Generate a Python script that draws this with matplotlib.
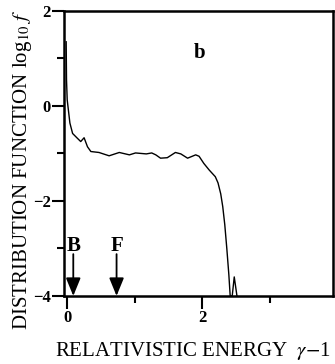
import numpy as np
import matplotlib.pyplot as plt

# distribution function
energy = [-0.015, -0.01, 0.0, 0.04, 0.08, 0.15, 0.20, 0.25, 0.30, 0.35, 0.47, 0.62, 0.77,
          0.92, 1.01, 1.17, 1.25, 1.31, 1.38, 1.48, 1.60, 1.68, 1.78, 1.90, 1.95, 2.02,
          2.10, 2.19, 2.23, 2.27, 2.30, 2.33, 2.36, 2.39, 2.41, 2.44, 2.47, 2.51]
log_f = [1.35, 0.55, 0.13, -0.36, -0.58, -0.68, -0.75, -0.67, -0.86, -0.96, -0.98, -1.05, -0.98,
         -1.03, -0.99, -1.01, -0.99, -1.03, -1.10, -1.09, -0.98, -1.01, -1.10, -1.03, -1.06, -1.21,
         -1.35, -1.49, -1.62, -1.85, -2.12, -2.50, -3.0, -3.55, -4.0, -4.0, -3.6, -4.0]

arrow_x = [0.09, 0.73]
arrow_lbl = ["B", "F"]

x_major = [0, 2]
x_minor = [1, 3]
y_major = [2, 0, -2, -4]
y_minor = [1, -1, -3]

plt.rcParams['font.family'] = ['Liberation Serif', 'DejaVu Serif']
plt.rcParams['mathtext.fontset'] = 'stix'

fig = plt.figure(figsize=(3.35, 3.64), dpi=100)
ax = fig.add_axes([0.1925, 0.187, 0.8015, 0.783])

ax.plot(energy, log_f, color='black', lw=1.0)

for xa, lb in zip(arrow_x, arrow_lbl):
    ax.annotate("", xy=(xa, -4.0), xytext=(xa, -3.12),
                arrowprops=dict(arrowstyle='-|>,head_length=1.1,head_width=0.45',
                                color='black', lw=1.3, shrinkA=0, shrinkB=0))
    ax.text(xa, -2.95, lb, ha='center', va='center', fontsize=15, fontweight='bold')

ax.text(1.95, 1.11, "b", ha='center', va='center', fontsize=15, fontweight='bold')

ax.set_xlim(-0.04, 3.93)
ax.set_ylim(-4, 2)
ax.set_xticks(x_major)
ax.set_xticks(x_minor, minor=True)
ax.set_xticklabels([str(v) for v in x_major], fontweight='bold', fontsize=12)
ax.set_yticks(y_major)
ax.set_yticks(y_minor, minor=True)
ax.set_yticklabels([str(v).replace("-", "\u2212") for v in y_major], fontweight='bold', fontsize=12)
ax.tick_params(which='major', direction='out', length=9, width=1.5, pad=1)
ax.tick_params(which='minor', direction='out', length=5, width=1.5)
for s in ax.spines.values():
    s.set_linewidth(1.8)

ax.set_xlabel(r"RELATIVISTIC ENERGY  $\gamma$$-$1", fontsize=15)
ax.xaxis.set_label_coords(0.48, -0.155)
ax.set_ylabel(r"DISTRIBUTION FUNCTION log$_{10}$ $f$", fontsize=15)
ax.yaxis.set_label_coords(-0.114, 0.442)

fig.savefig("out.png", dpi=100)
